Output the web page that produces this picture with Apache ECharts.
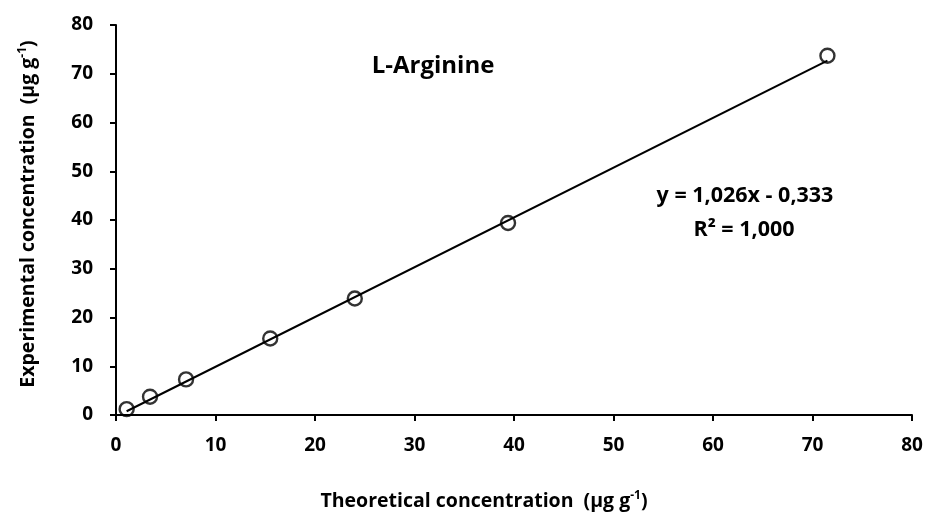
<!DOCTYPE html>
<html>
<head>
<meta charset="utf-8">
<script src="https://cdn.jsdelivr.net/npm/echarts@6/dist/echarts.min.js"></script>
<style>html,body{margin:0;padding:0;background:#fff}#c{width:929px;height:514px}</style>
</head>
<body>
<div id="c"></div>
<script>
// Data
const theoretical = [1.07, 3.42, 7.04, 15.5, 24.0, 39.4, 71.5];
const experimental = [1.2, 3.75, 7.3, 15.7, 23.9, 39.4, 73.7];
// Trendline endpoints (y = 1,026x - 0,333)
const trendX = [1.07, 71.5];
const trendY = [0.77, 72.7];
const xTicks = [0, 10, 20, 30, 40, 50, 60, 70, 80];
const yTicks = [0, 10, 20, 30, 40, 50, 60, 70, 80];
const titleText = 'L-Arginine';
const eqText = 'y = 1,026x - 0,333';
const r2Text = 'R² = 1,000';
const xTitle = ['Theoretical concentration  (μg g', '-1', ')'];
const yTitle = ['Experimental concentration  (μg g', '-1', ')'];

const FONT = '"Open Sans"';
const chart = echarts.init(document.getElementById('c'), null, {renderer: 'canvas'});
const axisCommon = {
  min: xTicks[0], max: xTicks[xTicks.length - 1], interval: 10,
  splitLine: {show: false},
  axisLine: {show: true, onZero: false, lineStyle: {color: '#000', width: 2}},
  axisTick: {show: true, inside: false, length: 6, lineStyle: {color: '#000', width: 2}},
  axisLabel: {color: '#000', fontFamily: FONT, fontWeight: 'bold', fontSize: 19}
};
const richName = {
  a: {fontFamily: FONT, fontWeight: 'bold', fontSize: 19.5, color: '#000'},
  s: {fontFamily: FONT, fontWeight: 'bold', fontSize: 12, color: '#000', verticalAlign: 'top', padding: [0, 0, 10, 0]}
};
const richStr = (p) => '{a|' + p[0] + '}{s|' + p[1] + '}{a|' + p[2] + '}';
chart.setOption({
  animation: false,
  backgroundColor: '#fff',
  grid: {left: 116, right: 17, top: 25, bottom: 99, containLabel: false},
  xAxis: Object.assign({}, axisCommon, {
    type: 'value',
    axisLabel: Object.assign({}, axisCommon.axisLabel, {margin: 21})
  }),
  yAxis: Object.assign({}, axisCommon, {
    type: 'value',
    min: yTicks[0], max: yTicks[yTicks.length - 1],
    axisLabel: Object.assign({}, axisCommon.axisLabel, {margin: 23})
  }),
  series: [
    {
      type: 'line',
      data: trendX.map((x, i) => [x, trendY[i]]),
      showSymbol: false,
      symbol: 'none',
      lineStyle: {color: '#000', width: 2},
      z: 2
    },
    {
      type: 'scatter',
      data: theoretical.map((x, i) => [x, experimental[i]]),
      symbol: 'circle',
      symbolSize: 14,
      itemStyle: {color: 'rgba(255,255,255,0)', borderColor: '#000', borderWidth: 2.4},
      z: 3
    }
  ],
  graphic: [
    {type: 'text', x: 433, y: 66, style: {text: titleText, fontFamily: FONT, fontWeight: 'bold', fontSize: 24, fill: '#000', align: 'center', verticalAlign: 'middle'}},
    {type: 'text', x: 745, y: 196, style: {text: eqText, fontFamily: FONT, fontWeight: 'bold', fontSize: 21.5, fill: '#000', align: 'center', verticalAlign: 'middle'}},
    {type: 'text', x: 744, y: 230, style: {text: r2Text, fontFamily: FONT, fontWeight: 'bold', fontSize: 21.5, fill: '#000', align: 'center', verticalAlign: 'middle'}},
    {type: 'text', x: 484, y: 501, style: {text: richStr(xTitle), rich: richName, align: 'center', verticalAlign: 'middle'}},
    {type: 'text', x: 28, y: 214, rotation: Math.PI / 2, style: {text: richStr(yTitle), rich: richName, align: 'center', verticalAlign: 'middle'}}
  ]
});
</script>
</body>
</html>
